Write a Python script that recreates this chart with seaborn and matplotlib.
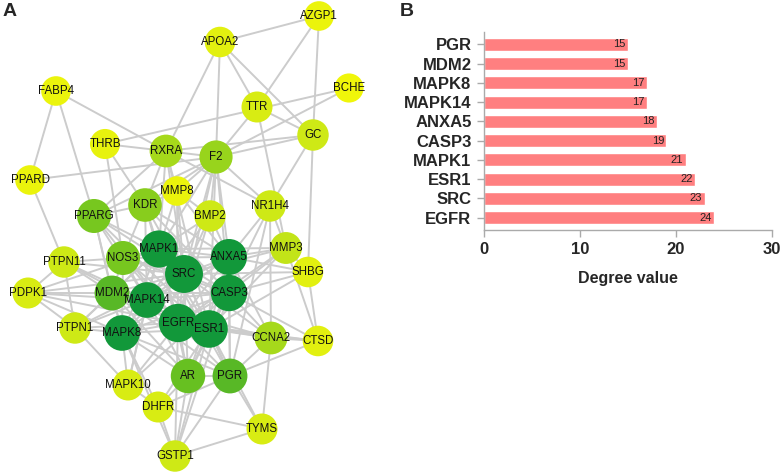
import matplotlib
matplotlib.use("Agg")
import matplotlib.pyplot as plt
import seaborn as sns
import pandas as pd
import numpy as np
from matplotlib.colors import LinearSegmentedColormap
from matplotlib.collections import LineCollection

# ---------------- data ----------------
bar_genes = ["PGR", "MDM2", "MAPK8", "MAPK14", "ANXA5", "CASP3", "MAPK1", "ESR1", "SRC", "EGFR"]
bar_degree = [15, 15, 17, 17, 18, 19, 21, 22, 23, 24]

node_names = ["AZGP1", "APOA2", "FABP4", "BCHE", "TTR", "GC", "THRB", "RXRA", "F2", "PPARD",
              "MMP8", "KDR", "BMP2", "NR1H4", "PPARG", "MAPK1", "NOS3", "ANXA5", "MMP3", "SHBG",
              "PTPN11", "SRC", "CASP3", "PDPK1", "MDM2", "MAPK14", "EGFR", "ESR1", "PTPN1", "MAPK8",
              "CCNA2", "CTSD", "AR", "PGR", "MAPK10", "DHFR", "TYMS", "GSTP1"]
node_x = [319, 220, 56, 349, 257, 313, 105, 166, 216, 30,
          177, 145, 210, 270, 94, 159, 123, 229, 286, 308,
          64, 184, 229, 28, 112, 147, 178, 209, 75, 122,
          271, 318, 188, 230, 128, 158, 262, 175]
node_y = [16, 42, 91, 88, 107, 135, 144, 151, 157, 180,
          191, 205, 216, 206, 216, 249, 258, 257, 248, 272,
          262, 274, 293, 293, 293, 300, 323, 329, 328, 333,
          338, 341, 376, 376, 385, 407, 429, 456]
node_degree = [3, 5, 3, 2, 6, 7, 4, 10, 11, 3,
               3, 12, 7, 7, 13, 21, 13, 18, 8, 5,
               7, 23, 19, 6, 15, 17, 24, 22, 7, 17,
               10, 5, 14, 15, 6, 6, 6, 7]

edges = [
    ("EGFR", "SRC"), ("EGFR", "ESR1"), ("EGFR", "MAPK1"), ("EGFR", "CASP3"), ("EGFR", "ANXA5"),
    ("EGFR", "MAPK14"), ("EGFR", "MAPK8"), ("EGFR", "MDM2"), ("EGFR", "PGR"), ("EGFR", "AR"),
    ("EGFR", "NOS3"), ("EGFR", "KDR"), ("EGFR", "PPARG"), ("EGFR", "PTPN1"), ("EGFR", "PTPN11"),
    ("EGFR", "PDPK1"), ("EGFR", "F2"), ("EGFR", "BMP2"), ("EGFR", "MMP3"), ("EGFR", "CCNA2"),
    ("EGFR", "MMP8"), ("EGFR", "GSTP1"), ("EGFR", "MAPK10"), ("EGFR", "CTSD"),
    ("SRC", "ESR1"), ("SRC", "MAPK1"), ("SRC", "CASP3"), ("SRC", "ANXA5"), ("SRC", "MAPK14"),
    ("SRC", "MAPK8"), ("SRC", "MDM2"), ("SRC", "PGR"), ("SRC", "AR"), ("SRC", "NOS3"),
    ("SRC", "KDR"), ("SRC", "PPARG"), ("SRC", "PTPN1"), ("SRC", "PTPN11"), ("SRC", "PDPK1"),
    ("SRC", "F2"), ("SRC", "MMP3"), ("SRC", "CCNA2"), ("SRC", "BMP2"), ("SRC", "SHBG"),
    ("SRC", "RXRA"), ("SRC", "MMP8"),
    ("ESR1", "MAPK1"), ("ESR1", "CASP3"), ("ESR1", "ANXA5"), ("ESR1", "MAPK14"), ("ESR1", "MAPK8"),
    ("ESR1", "MDM2"), ("ESR1", "PGR"), ("ESR1", "AR"), ("ESR1", "NOS3"), ("ESR1", "PPARG"),
    ("ESR1", "CCNA2"), ("ESR1", "CTSD"), ("ESR1", "SHBG"), ("ESR1", "TYMS"), ("ESR1", "GSTP1"),
    ("ESR1", "DHFR"), ("ESR1", "RXRA"), ("ESR1", "F2"), ("ESR1", "MMP3"), ("ESR1", "NR1H4"),
    ("MAPK1", "CASP3"), ("MAPK1", "ANXA5"), ("MAPK1", "MAPK14"), ("MAPK1", "MAPK8"), ("MAPK1", "MDM2"),
    ("MAPK1", "PGR"), ("MAPK1", "AR"), ("MAPK1", "NOS3"), ("MAPK1", "KDR"), ("MAPK1", "PPARG"),
    ("MAPK1", "PTPN1"), ("MAPK1", "PDPK1"), ("MAPK1", "F2"), ("MAPK1", "MMP3"), ("MAPK1", "MMP8"),
    ("MAPK1", "BMP2"), ("MAPK1", "RXRA"), ("MAPK1", "MAPK10"),
    ("CASP3", "ANXA5"), ("CASP3", "MAPK14"), ("CASP3", "MAPK8"), ("CASP3", "MDM2"), ("CASP3", "AR"),
    ("CASP3", "NOS3"), ("CASP3", "CCNA2"), ("CASP3", "MMP3"), ("CASP3", "CTSD"), ("CASP3", "F2"),
    ("CASP3", "KDR"), ("CASP3", "PGR"), ("CASP3", "SHBG"), ("CASP3", "MAPK10"), ("CASP3", "GSTP1"),
    ("ANXA5", "MAPK14"), ("ANXA5", "MAPK8"), ("ANXA5", "F2"), ("ANXA5", "MMP3"), ("ANXA5", "KDR"),
    ("ANXA5", "NOS3"), ("ANXA5", "BMP2"), ("ANXA5", "MMP8"), ("ANXA5", "CCNA2"), ("ANXA5", "SHBG"),
    ("ANXA5", "NR1H4"), ("ANXA5", "PGR"), ("ANXA5", "AR"),
    ("MAPK14", "MAPK8"), ("MAPK14", "MDM2"), ("MAPK14", "NOS3"), ("MAPK14", "PPARG"), ("MAPK14", "PTPN1"),
    ("MAPK14", "PDPK1"), ("MAPK14", "KDR"), ("MAPK14", "AR"), ("MAPK14", "MAPK10"), ("MAPK14", "PTPN11"),
    ("MAPK14", "BMP2"),
    ("MAPK8", "MDM2"), ("MAPK8", "PTPN1"), ("MAPK8", "PDPK1"), ("MAPK8", "NOS3"), ("MAPK8", "AR"),
    ("MAPK8", "PGR"), ("MAPK8", "MAPK10"), ("MAPK8", "PPARG"), ("MAPK8", "DHFR"), ("MAPK8", "GSTP1"),
    ("MDM2", "PDPK1"), ("MDM2", "PTPN1"), ("MDM2", "PTPN11"), ("MDM2", "NOS3"), ("MDM2", "PPARG"),
    ("MDM2", "AR"), ("MDM2", "PGR"), ("MDM2", "CCNA2"),
    ("PGR", "AR"), ("PGR", "CCNA2"), ("PGR", "TYMS"), ("PGR", "GSTP1"), ("PGR", "CTSD"),
    ("PGR", "DHFR"), ("PGR", "NR1H4"),
    ("AZGP1", "APOA2"), ("AZGP1", "TTR"), ("AZGP1", "GC"),
    ("APOA2", "RXRA"), ("APOA2", "F2"), ("APOA2", "TTR"), ("APOA2", "GC"),
    ("FABP4", "PPARD"), ("FABP4", "RXRA"), ("FABP4", "PPARG"),
    ("BCHE", "THRB"), ("BCHE", "F2"),
    ("TTR", "GC"), ("TTR", "F2"), ("TTR", "MMP3"),
    ("GC", "RXRA"), ("GC", "F2"), ("GC", "NR1H4"), ("GC", "SHBG"),
    ("THRB", "RXRA"), ("THRB", "KDR"), ("THRB", "NOS3"),
    ("RXRA", "F2"), ("RXRA", "PPARG"), ("RXRA", "KDR"), ("RXRA", "MMP8"), ("RXRA", "NR1H4"),
    ("PPARD", "F2"), ("PPARD", "PTPN11"),
    ("F2", "MMP8"), ("F2", "KDR"), ("F2", "BMP2"), ("F2", "NR1H4"), ("F2", "PPARG"),
    ("KDR", "PPARG"), ("KDR", "NOS3"), ("KDR", "MMP8"), ("BMP2", "MMP8"),
    ("NR1H4", "MMP3"), ("NR1H4", "CCNA2"),
    ("PTPN11", "PDPK1"), ("PTPN11", "PTPN1"), ("PTPN11", "NOS3"), ("PDPK1", "PTPN1"),
    ("PTPN1", "MAPK10"), ("MMP3", "SHBG"), ("MMP3", "CTSD"), ("SHBG", "CTSD"),
    ("CCNA2", "CTSD"), ("CCNA2", "TYMS"),
    ("AR", "DHFR"), ("AR", "GSTP1"), ("DHFR", "TYMS"), ("DHFR", "GSTP1"), ("TYMS", "GSTP1"),
    ("MAPK10", "DHFR"),
]

# ---------------- style ----------------
sns.set_theme(style="white")
plt.rcParams["font.family"] = ["Liberation Sans", "DejaVu Sans"]

fig = plt.figure(figsize=(7.82, 4.73), dpi=100)

# ---------------- panel A: network ----------------
axA = fig.add_axes([0, 0, 370 / 782, 1])

pos = {n: (x, y) for n, x, y in zip(node_names, node_x, node_y)}
segs = [[pos[a], pos[b]] for a, b in edges]
axA.add_collection(LineCollection(segs, colors="#cccccc", linewidths=1.4, zorder=1))

nodes = pd.DataFrame({"gene": node_names, "x": node_x, "y": node_y, "degree": node_degree})
cmap = LinearSegmentedColormap.from_list(
    "yg", [(0.0, "#f0f60a"), (0.2, "#e2f010"), (0.35, "#cce817"), (0.6, "#98d41c"),
           (0.78, "#6cc220"), (0.9, "#50b428"), (1.0, "#12983a")])
sns.scatterplot(data=nodes, x="x", y="y", hue="degree", palette=cmap,
                hue_norm=(2, 17), size="degree", sizes=(440, 760), size_norm=(2, 24),
                edgecolor="none", linewidth=0, legend=False, ax=axA, zorder=2)
axA.set_xlim(0, 370)
axA.set_ylim(473, 0)
axA.axis("off")
for n, x, y in zip(node_names, node_x, node_y):
    axA.text(x, y, n, ha="center", va="center", fontsize=8.3, color="#111111", zorder=3)

fig.text(3 / 782, 1 - 11 / 473, "A", fontsize=14, fontweight="bold", va="center", ha="left")
fig.text(400 / 782, 1 - 11 / 473, "B", fontsize=14, fontweight="bold", va="center", ha="left")

# ---------------- panel B: bar chart ----------------
axB = fig.add_axes([484 / 782, 1 - 230 / 473, 288 / 782, 198 / 473])
bars = pd.DataFrame({"gene": bar_genes, "degree": bar_degree})
sns.barplot(data=bars, x="degree", y="gene", orient="h", color="#ff7f80",
            saturation=1, width=0.68, ax=axB)
axB.set_xlim(0, 30)
axB.set_ylim(9.64, -0.64)
axB.set_xticks([0, 10, 20, 30])
axB.set_xlabel("Degree value", fontsize=11.5, fontweight="bold", labelpad=10)
axB.set_ylabel("")
for lab in axB.get_xticklabels() + axB.get_yticklabels():
    lab.set_fontweight("bold")
    lab.set_fontsize(12)
axB.tick_params(axis="both", which="major", length=5, width=1, color="#aaaaaa",
                bottom=True, left=True, pad=4)
for s in ["top", "right"]:
    axB.spines[s].set_visible(False)
for s in ["left", "bottom"]:
    axB.spines[s].set_color("#aaaaaa")
    axB.spines[s].set_linewidth(1)
for i, v in enumerate(bar_degree):
    axB.text(v - 0.25, i, str(v), ha="right", va="center", fontsize=8, color="#222222")

fig.savefig("out.png", dpi=100)
